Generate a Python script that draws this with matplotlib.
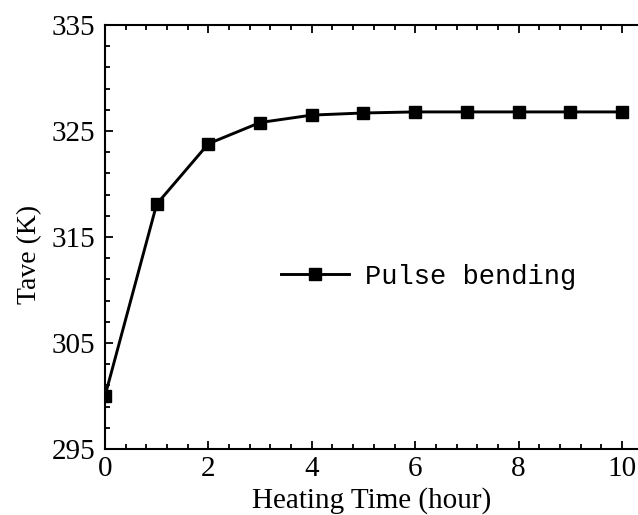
import matplotlib
matplotlib.use("Agg")
import matplotlib.pyplot as plt
from matplotlib.ticker import MultipleLocator, FixedLocator

time_h = [0, 1, 2, 3, 4, 5, 6, 7, 8, 9, 10]
tave = [300.0, 318.1, 323.8, 325.8, 326.5, 326.7, 326.8, 326.8, 326.8, 326.8, 326.8]
y_ticks = [295, 305, 315, 325, 335]
x_ticks = [0, 2, 4, 6, 8, 10]
series_label = "Pulse bending"
x_label = "Heating Time (hour)"
y_label = "Tave (K)"

plt.rcParams['font.family'] = ['Liberation Serif', 'DejaVu Serif']

fig = plt.figure(figsize=(6.38, 5.15), dpi=100)
ax = fig.add_axes([105/638, 66/515, 533/638, 424/515])

ax.plot(time_h, tave, color='black', lw=2.1, marker='s', ms=8.5,
        label=series_label, clip_on=True)

ax.set_xlim(0, 10.31)
ax.set_ylim(295, 335)
ax.xaxis.set_major_locator(FixedLocator(x_ticks))
ax.xaxis.set_minor_locator(MultipleLocator(0.4))
ax.yaxis.set_major_locator(FixedLocator(y_ticks))
ax.yaxis.set_minor_locator(MultipleLocator(2, offset=1))

for s in ['left', 'bottom', 'top']:
    ax.spines[s].set_linewidth(1.5)
ax.spines['right'].set_visible(False)

ax.tick_params(which='both', direction='in', top=True, right=False,
               width=1.3, labelsize=21)
ax.tick_params(which='major', length=6)
ax.tick_params(which='minor', length=3.5)
ax.tick_params(axis='x', pad=5)
ax.tick_params(axis='y', pad=7)

ax.set_xlabel(x_label, fontsize=21, labelpad=4)
ax.set_ylabel(y_label, fontsize=20)
ax.yaxis.set_label_coords(-0.118, 0.458)

leg = ax.legend(loc='center left', bbox_to_anchor=(0.285, 0.406), frameon=False,
                prop={'family': 'Liberation Mono', 'size': 19.5},
                handlelength=2.5, handletextpad=0.6)

fig.savefig("out.png", dpi=100)
